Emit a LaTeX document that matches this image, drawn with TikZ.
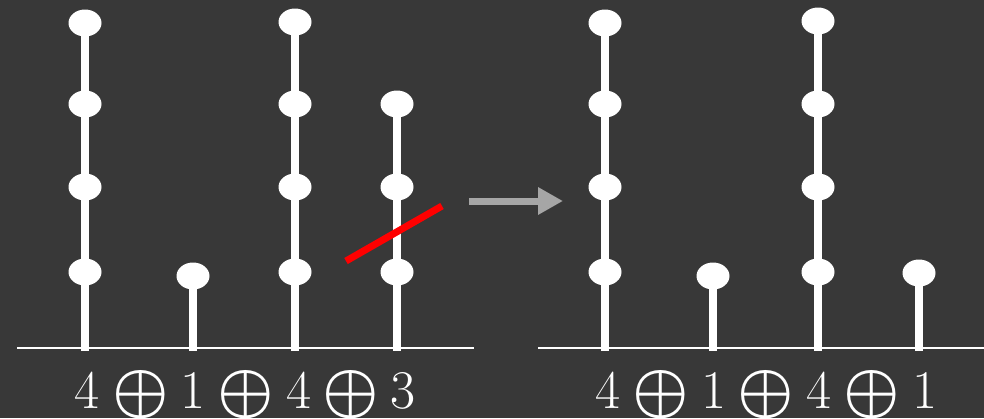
\documentclass[tikz,border=0pt]{standalone}
\usepackage{amsmath,amssymb,bm}
\usepackage{xcolor}
\usepackage{tikz}
\usetikzlibrary{arrows.meta,positioning,shapes.geometric,calc}
\definecolor{slate}{HTML}{383838}
\definecolor{arrowgrey}{HTML}{A6A6A6}
\newcommand{\psum}{\scalebox{1.25}{$\bm{\oplus}$}}
\tikzset{
  partbead/.style={ellipse, fill=white, inner sep=0pt, minimum width=3.3mm, minimum height=2.7mm},
  partstem/.style={white, line width=0.8mm},
  partfloor/.style={white, line width=0.25mm},
  partcut/.style={red, line width=0.7mm},
  partmove/.style={-{Triangle[length=2.5mm,width=2.6mm]}, arrowgrey, line width=0.7mm},
  partsum/.style={text=white, inner sep=0pt, font=\fontsize{15.5}{18}\selectfont}
}

\begin{document}
\begin{tikzpicture}[x=0.1mm, y=-0.1mm]
\fill[slate] (0,0) rectangle (984,418);
\useasboundingbox (0,0) rectangle (984,418);

% floors
\coordinate (lfloorA) at (17,348);
\coordinate (lfloorB) at (474,348);
\coordinate (rfloorA) at (538,348);
\coordinate (rfloorB) at (984,348);
\draw[partfloor] (lfloorA) -- (lfloorB);
\draw[partfloor] (rfloorA) -- (rfloorB);

% columns: name / x / number of beads / heights of the beads
\foreach \name/\x/\n/\ys in {l1/85/4/{272,187,104,23}, l2/193/1/{276}, l3/295/4/{272,187,104,22}, l4/397/3/{272,187,104},
                             r1/605/4/{272,187,104,23}, r2/713/1/{276}, r3/818/4/{272,187,104,21}, r4/919/1/{273}}{
  \coordinate (\name-0) at (\x,351);
  \foreach \y [count=\k] in \ys
    \node[partbead] (\name-\k) at (\x,\y) {};
  \draw[partstem] (\name-\n.center) -- (\name-0);
}

% the cut through the last column
\coordinate (cutA) at (346,261);
\coordinate (cutB) at (442,206);
\draw[partcut] (cutA) -- (cutB);

\coordinate (moveA) at (469,201);
\coordinate (moveB) at (563,201);
\draw[partmove] (moveA) -- (moveB);

% sums under the columns
\node[partsum, anchor=base] (lsum1) at (87,408) {4};
\node[partsum] (lplus1) at (141,395) {\psum};
\node[partsum, anchor=base] (lsum2) at (193,408) {1};
\node[partsum] (lplus2) at (246,395) {\psum};
\node[partsum, anchor=base] (lsum3) at (299,408) {4};
\node[partsum] (lplus3) at (351,395) {\psum};
\node[partsum, anchor=base] (lsum4) at (403,408) {3};

\node[partsum, anchor=base] (rsum1) at (608,408) {4};
\node[partsum] (rplus1) at (661,395) {\psum};
\node[partsum, anchor=base] (rsum2) at (714,408) {1};
\node[partsum] (rplus2) at (766,395) {\psum};
\node[partsum, anchor=base] (rsum3) at (819,408) {4};
\node[partsum] (rplus3) at (872,395) {\psum};
\node[partsum, anchor=base] (rsum4) at (925,408) {1};
\end{tikzpicture}
\end{document}
